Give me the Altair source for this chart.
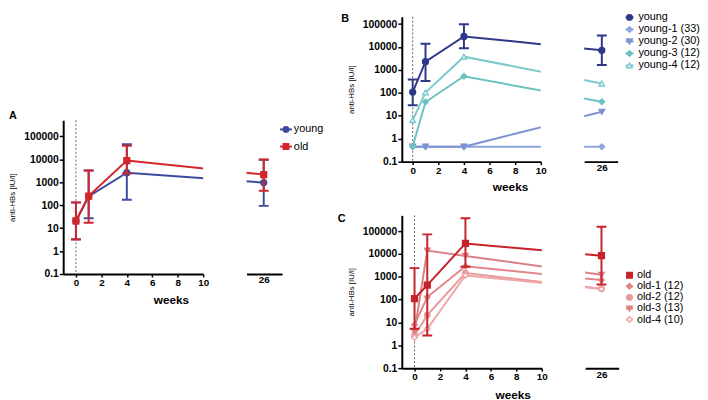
import altair as alt
import pandas as pd

WEEKS = [0, 1, 4, 26]
Y_TICKS = [0.1, 1, 10, 100, 1000, 10000, 100000]
X_TICKS = [0, 2, 4, 6, 8, 10]

# ---------------- Panel A ----------------
A_KEYS = ["A:young", "A:old"]
A_LABELS = ["young", "old"]
A_YOUNG = [20, 240, 2600, 960]
A_YOUNG_LO = [3.3, 27, 170, 93]
A_YOUNG_HI = [130, 3200, 45000, 9500]
A_OLD = [20.5, 250, 8700, 2140]
A_OLD_LO = [3.2, 17, 2400, 420]
A_OLD_HI = [132, 3200, 39000, 9700]

# ---------------- Panel B ----------------
B_KEYS = ["B:young", "B:young-1", "B:young-2", "B:young-3", "B:young-4"]
B_LABELS = ["young", "young-1 (33)", "young-2 (30)", "young-3 (12)", "young-4 (12)"]
B_YOUNG = [108, 2300, 29000, 7200]
B_YOUNG_LO = [29, 330, 8800, 1660]
B_YOUNG_HI = [385, 13800, 98000, 32000]
B_YOUNG_1 = [0.45, 0.45, 0.45, 0.45]
B_YOUNG_2 = [0.45, 0.45, 0.45, 15]
B_YOUNG_3 = [0.47, 40, 530, 41]
B_YOUNG_4 = [6.4, 104, 3800, 255]

# ---------------- Panel C ----------------
C_KEYS = ["C:old", "C:old-1", "C:old-2", "C:old-3", "C:old-4"]
C_LABELS = ["old", "old-1 (12)", "old-2 (12)", "old-3 (13)", "old-4 (10)"]
C_OLD = [112, 430, 29000, 8400]
C_OLD_LO = [5.3, 2.7, 2750, 460]
C_OLD_HI = [2400, 72000, 365000, 155000]
C_OLD_1 = [8, 130, 2900, 720]
C_OLD_2 = [2.7, 21, 1450, 300]
C_OLD_3 = [4, 14000, 8200, 1230]
C_OLD_4 = [2.2, 5.3, 1150, 295]

# ---------------- styles ----------------
ALL_KEYS = A_KEYS + B_KEYS + C_KEYS
COLORS = ["#3D4B9F", "#D3262C",
          "#2F3788", "#8CA6DC", "#7D91D2", "#6CC2C2", "#7DCACA",
          "#C52229", "#E2868A", "#E99A9C", "#DD8084", "#EDA7A8"]
FILLS = ["#3D4B9F", "#D3262C",
         "#2F3788", "#8CA6DC", "#7D91D2", "#6CC2C2", "white",
         "#C52229", "#E2868A", "#E99A9C", "#DD8084", "white"]
SHAPES = ["circle", "square",
          "circle", "diamond", "triangle-down", "diamond", "triangle-up",
          "square", "diamond", "circle", "triangle-down", "diamond"]
FONT = "Liberation Sans"

color_scale = alt.Scale(domain=ALL_KEYS, range=COLORS)
fill_scale = alt.Scale(domain=ALL_KEYS, range=FILLS)
shape_scale = alt.Scale(domain=ALL_KEYS, range=SHAPES)


def long_df(keys, series):
    rows = []
    for k, vals in zip(keys, series):
        for w, v in zip(WEEKS, vals):
            rows.append({"key": k, "week": w, "value": v})
    return pd.DataFrame(rows)


def err_df(key, vals, lo, hi):
    return pd.DataFrame({"key": key, "week": WEEKS, "value": vals, "lo": lo, "hi": hi})


def point_enc():
    return dict(
        stroke=alt.Stroke("key:N", scale=color_scale, legend=None),
        fill=alt.Fill("key:N", scale=fill_scale, legend=None),
        shape=alt.Shape("key:N", scale=shape_scale, legend=None),
    )


def segment(mains, light, xdom, ydom, w, h, pos26, first, title=None,
            weeks_x=110, weeks_y=26):
    calc = f"datum.week == 26 ? {pos26} : datum.week"
    xs = alt.Scale(domain=xdom, nice=False, zero=False)
    ys = alt.Scale(type="log", domain=ydom, nice=False)
    if first:
        xax = alt.Axis(values=X_TICKS, format="d", title="weeks", titleX=weeks_x,
                       titleY=weeks_y, titleAlign="center", titleBaseline="middle",
                       titleFontSize=12, titleFontWeight="bold", labelFlush=False,
                       labelOverlap=False)
        yax = alt.Axis(values=Y_TICKS,
                       labelExpr="datum.value < 1 ? '0.1' : format(datum.value, 'd')",
                       title="anti-HBs [IU/l]", titleFontSize=8, titleFontWeight="normal",
                       titlePadding=7, labelFlush=False, labelOverlap=False, tickSize=4,
                       labelFontSize=10.5)
    else:
        xax = alt.Axis(values=[pos26], labelExpr="'26'", title=None, ticks=False,
                       labelFlush=False)
        yax = None
    X = alt.X("xp:Q", scale=xs, axis=xax)
    Y = alt.Y("value:Q", scale=ys, axis=yax)
    layers = []
    if first:
        layers.append(alt.Chart(pd.DataFrame({"xp": [0]}))
                      .mark_rule(color="#666666", strokeDash=[2, 2], strokeWidth=1)
                      .encode(x=X))
    if light is not None:
        lb = alt.Chart(light).transform_calculate(xp=calc)
        layers.append(lb.mark_line(strokeWidth=2, clip=True).encode(
            x=X, y=Y, color=alt.Color("key:N", scale=color_scale, legend=None),
            detail="key:N"))
        layers.append(lb.mark_point(size=30, opacity=1, fillOpacity=1, strokeWidth=1.5,
                                    clip=True).encode(x=X, y=Y, **point_enc()))
    for m in mains:
        mb = alt.Chart(m).transform_calculate(xp=calc)
        col = alt.Color("key:N", scale=color_scale, legend=None)
        layers.append(mb.mark_line(strokeWidth=2, clip=True).encode(x=X, y=Y, color=col))
        layers.append(mb.mark_rule(strokeWidth=2, clip=True).encode(
            x=X, y=alt.Y("lo:Q", scale=ys, axis=yax), y2="hi:Q", color=col))
        for f in ["lo", "hi"]:
            layers.append(mb.mark_tick(orient="horizontal", size=10, thickness=2,
                                       clip=True, opacity=1).encode(
                x=X, y=alt.Y(f"{f}:Q", scale=ys, axis=yax), color=col))
        layers.append(mb.mark_point(size=34, opacity=1, fillOpacity=1, strokeWidth=1.5,
                                    clip=True).encode(x=X, y=Y, **point_enc()))
    ch = alt.layer(*layers).properties(width=w, height=h)
    if title is not None:
        ch = ch.properties(title=title)
    return ch


def legend(keys, labels, y0, y1, xl0, xl1, xm, xt, w, h):
    df = pd.DataFrame({"idx": list(range(len(keys))), "key": keys, "label": labels})
    Y = alt.Y("idx:Q", scale=alt.Scale(domain=[0, len(keys) - 1], range=[y0, y1]),
              axis=None)
    rule = alt.Chart(df).mark_rule(strokeWidth=2).encode(
        x=alt.value(xl0), x2=alt.value(xl1), y=Y,
        color=alt.Color("key:N", scale=color_scale, legend=None))
    pts = alt.Chart(df).mark_point(size=30, opacity=1, fillOpacity=1,
                                   strokeWidth=1.5).encode(x=alt.value(xm), y=Y,
                                                           **point_enc())
    txt = alt.Chart(df).mark_text(align="left", baseline="middle", fontSize=11,
                                  font=FONT, color="black").encode(
        x=alt.value(xt), y=Y, text="label:N")
    return alt.layer(rule, pts, txt).properties(width=w, height=h)


def ptitle(t, dx, dy):
    return alt.TitleParams(text=t, anchor="start", frame="bounds", fontSize=11,
                           fontWeight="bold", font=FONT, color="black", offset=0,
                           baseline="alphabetic", dx=dx, dy=dy)


# ---- panel A ----
a_mains = [err_df(A_KEYS[0], A_YOUNG, A_YOUNG_LO, A_YOUNG_HI),
           err_df(A_KEYS[1], A_OLD, A_OLD_LO, A_OLD_HI)]
A_YDOM = [0.1, 500000]
A1 = segment(a_mains, None, [-1, 10], A_YDOM, 142, 156, 14.73, True,
             title=ptitle("A", 0, 10.5), weeks_x=109.3, weeks_y=26)
A2 = segment(a_mains, None, [13.38, 16.17], A_YDOM, 36, 156, 14.73, False)
A_leg = legend(A_KEYS, A_LABELS, 9.3, 26.7, -46, -34, -40, -32, 1, 156)

# ---- panel B ----
b_mains = [err_df(B_KEYS[0], B_YOUNG, B_YOUNG_LO, B_YOUNG_HI)]
b_light = long_df(B_KEYS[1:], [B_YOUNG_1, B_YOUNG_2, B_YOUNG_3, B_YOUNG_4])
B_YDOM = [0.1, 210000]
B1 = segment(b_mains, b_light, [-0.85, 10], B_YDOM, 141, 147, 14.8, True,
             title=ptitle("B", -6.5, 17.3), weeks_x=109.8, weeks_y=25)
B2 = segment(b_mains, b_light, [13.42, 16.04], B_YDOM, 34, 147, 14.8, False)
B_leg = legend(B_KEYS, B_LABELS, 0.7, 49.4, -36, -28, -32, -23, 1, 147)

# ---- panel C ----
c_mains = [err_df(C_KEYS[0], C_OLD, C_OLD_LO, C_OLD_HI)]
c_light = long_df(C_KEYS[1:], [C_OLD_1, C_OLD_2, C_OLD_3, C_OLD_4])
C_YDOM = [0.1, 490000]
C1 = segment(c_mains, c_light, [-1, 10], C_YDOM, 142, 155, 14.74, True,
             title=ptitle("C", -10, 18), weeks_x=112.5, weeks_y=26.7)
C2 = segment(c_mains, c_light, [13.45, 16.1], C_YDOM, 34, 155, 14.74, False)
C_leg = legend(C_KEYS, C_LABELS, 60.7, 105.7, -36.5, -29.5, -33, -25.5, 1, 155)

spacer = (alt.Chart(pd.DataFrame({"s": [0]})).mark_rule(color="white", strokeWidth=1)
          .encode(x=alt.value(0), y=alt.value(0), y2=alt.value(94.4))
          .properties(width=1, height=94.4))

A_panel = alt.hconcat(A1, A2, A_leg, spacing=44, bounds="flush")
A_col = alt.vconcat(spacer, A_panel, spacing=0)
B_panel = alt.hconcat(B1, B2, B_leg, spacing=44, bounds="flush")
C_panel = alt.hconcat(C1, C2, C_leg, spacing=44, bounds="flush")
right = alt.vconcat(B_panel, C_panel, spacing=20.5)

chart = (alt.hconcat(A_col, right, spacing=10.5)
         .properties(padding={"left": 0, "top": 0, "right": 0, "bottom": 0},
                     background="white")
         .configure_view(stroke=None)
         .configure_axis(domainColor="black", domainWidth=2, tickColor="black",
                         tickWidth=1.5, tickSize=3, labelFont=FONT, labelFontSize=10,
                         labelFontWeight="bold", labelColor="black", titleFont=FONT,
                         titleColor="black", grid=False, labelPadding=1))

chart.save("out.html", embed_options={"renderer": "svg", "actions": False})
